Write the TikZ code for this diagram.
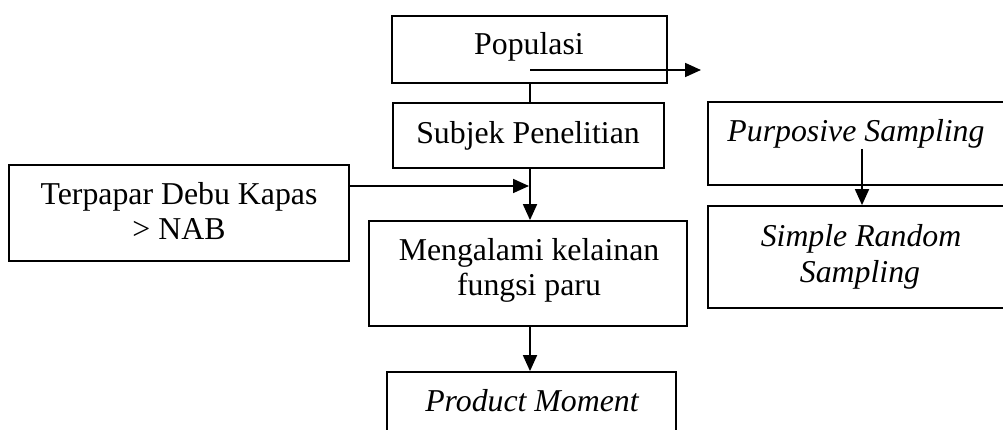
\documentclass[tikz,border=0pt]{standalone}
\usepackage{fontspec}
\setmainfont{Liberation Serif}
\usetikzlibrary{arrows.meta,calc}
\tikzset{
  box/.style={draw=black, line width=1.8pt, inner sep=0pt, rectangle},
  txt/.style={inner sep=0pt, anchor=base, font=\fontsize{31.8}{35}\selectfont},
  itxt/.style={txt, font=\fontsize{31.8}{35}\selectfont\itshape},
  conn/.style={line width=1.8pt, draw=black},
  arr/.style={conn, -{Triangle[length=16pt,width=14pt]}}
}
\begin{document}
\begin{tikzpicture}[x=1pt,y=-1pt]
\useasboundingbox (0,0) rectangle (1003,430);
\clip (0,0) rectangle (1003,430);
\fill[white] (0,0) rectangle (1003,430);
% boxes
\node[box, minimum width=275pt, minimum height=67pt] (populasi) at (529.5,49.5) {};
\node[box, minimum width=271pt, minimum height=65pt] (subjek) at (528.5,135.5) {};
\node[box, minimum width=340pt, minimum height=96pt] (terpapar) at (179,213) {};
\node[box, minimum width=318pt, minimum height=105pt] (mengalami) at (528,273.5) {};
\node[box, minimum width=289pt, minimum height=80pt] (product) at (531.5,412) {};
\node[box, minimum width=308pt, minimum height=83pt] (purposive) at (862,143.5) {};
\node[box, minimum width=308pt, minimum height=102pt] (simple) at (862,257) {};
% texts
\node[txt] (populasi-t) at (529,55) {Populasi};
\node[txt] (subjek-t) at (528,144) {Subjek Penelitian};
\node[txt] (terpapar-t1) at (179,205) {Terpapar Debu Kapas};
\node[txt] (terpapar-t2) at (179,240) {\symbol{62} NAB};
\node[txt] (mengalami-t1) at (529,260) {Mengalami kelainan};
\node[txt] (mengalami-t2) at (529,295) {fungsi paru};
\node[itxt] (product-t) at (532,411) {Product Moment};
\node[itxt] (purposive-t) at (856,142) {Purposive Sampling};
\node[itxt] (simple-t1) at (861,247) {Simple Random};
\node[itxt] (simple-t2) at (860,282) {Sampling};
% connector points
\coordinate (popstart) at (530,70);
\coordinate (popend) at (701,70);
\coordinate (join) at (530,186);
\coordinate (purstart) at (862,149);
% connectors
\draw[arr] (popstart) -- (popend);
\draw[conn] (populasi.south -| popstart) -- (subjek.north -| popstart);
\draw[arr] (subjek.south -| join) -- (mengalami.north -| join);
\draw[arr] (terpapar.east |- join) -- ($(join)+(-1,0)$);
\draw[arr] (mengalami.south -| join) -- (product.north -| join);
\draw[arr] (purstart) -- (simple.north -| purstart);
\end{tikzpicture}
\end{document}
